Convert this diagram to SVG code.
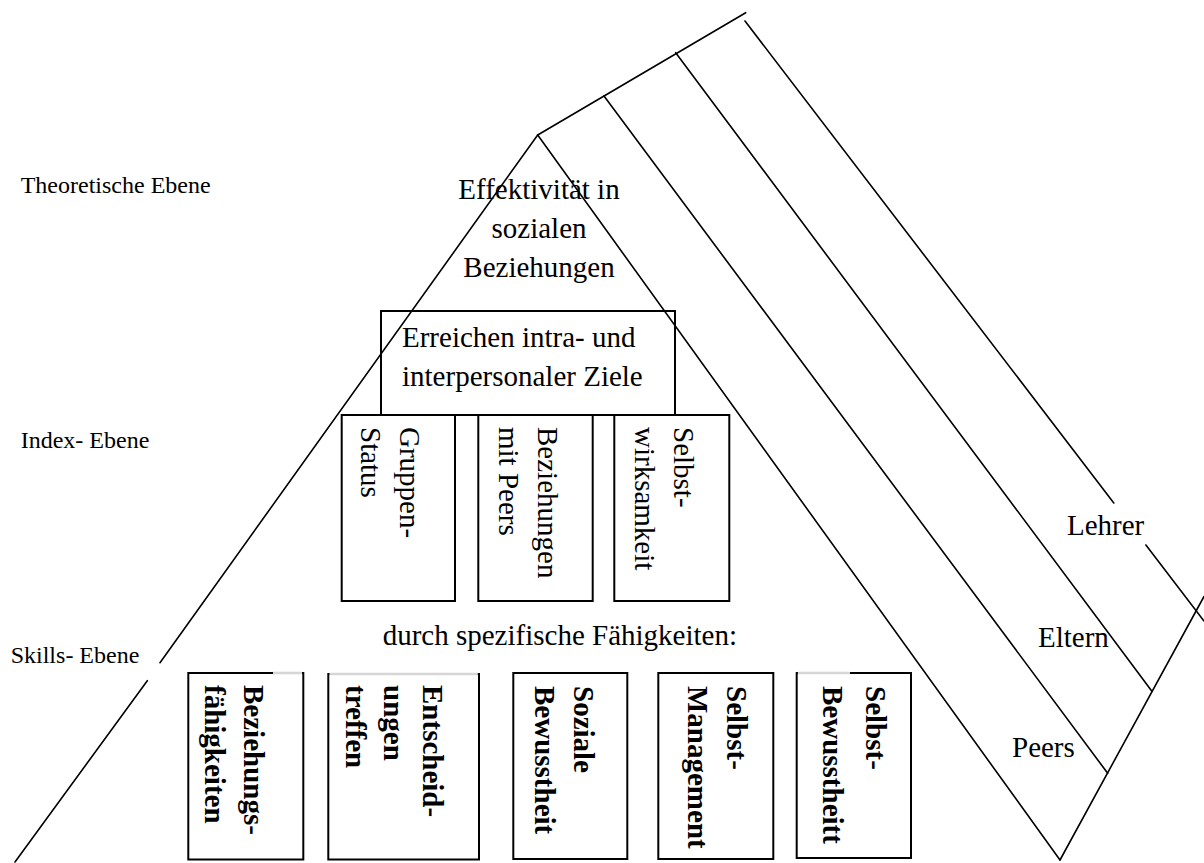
<svg xmlns="http://www.w3.org/2000/svg" width="1204" height="863" viewBox="0 0 1204 863">
<style>
text { font-family: "Liberation Serif", "Times New Roman", serif; fill: #000; }
.lbl { font-size: 24px; }
.t { font-size: 29px; }
.b { font-size: 29px; font-weight: bold; }
.box { fill: none; stroke: #000; stroke-width: 2; }
.ln { fill: none; stroke: #000; stroke-width: 1.6; stroke-linecap: round; }
.faint { stroke: #d6d6d6; stroke-width: 2.6; }
</style>
<rect width="1204" height="863" fill="#fff"/>
<g id="connectors">
  <line class="ln" x1="537.7" y1="135" x2="745.7" y2="12.7"/>
  <line class="ln" x1="537.7" y1="135" x2="160" y2="662.7"/>
  <line class="ln" x1="147.3" y1="680.7" x2="15" y2="862"/>
  <line class="ln" x1="537.7" y1="135" x2="1060" y2="860"/>
  <line class="ln" x1="604" y1="96" x2="1107.7" y2="773.3"/>
  <line class="ln" x1="675.7" y1="52.7" x2="1151.7" y2="691"/>
  <line class="ln" x1="745" y1="21" x2="1113.8" y2="503"/>
  <line class="ln" x1="1145.9" y1="545" x2="1204" y2="621"/>
  <line class="ln" x1="1060" y1="860" x2="1204" y2="596.5"/>
</g>
<g id="level-labels">
  <text class="lbl" x="20.7" y="193">Theoretische Ebene</text>
  <text class="lbl" x="20.7" y="448">Index- Ebene</text>
  <text class="lbl" x="10.7" y="663">Skills- Ebene</text>
</g>
<g id="effektivitaet">
  <text class="t" text-anchor="middle"><tspan x="539" y="199.3">Effektivität in</tspan><tspan x="539" y="238">sozialen</tspan><tspan x="539" y="276.7">Beziehungen</tspan></text>
</g>
<g id="ziele">
  <rect class="box" x="381" y="311" width="294" height="104"/>
  <text class="t"><tspan x="402" y="347">Erreichen intra- und</tspan><tspan x="402" y="385.5">interpersonaler Ziele</tspan></text>
</g>
<g id="gruppenstatus">
  <rect class="box" x="341.7" y="415" width="113.3" height="186"/>
  <text class="t" transform="translate(400,427) rotate(90)"><tspan x="0" y="0">Gruppen-</tspan><tspan x="0" y="38.7">Status</tspan></text>
</g>
<g id="beziehungen-peers">
  <rect class="box" x="478.3" y="415" width="114.4" height="186"/>
  <text class="t" transform="translate(537.5,427) rotate(90)"><tspan x="0" y="0">Beziehungen</tspan><tspan x="0" y="38.7">mit Peers</tspan></text>
</g>
<g id="selbstwirksamkeit">
  <rect class="box" x="614.3" y="415" width="115" height="186"/>
  <text class="t" transform="translate(674,427) rotate(90)"><tspan x="0" y="0">Selbst-</tspan><tspan x="0" y="38.7">wirksamkeit</tspan></text>
</g>
<g id="faehigkeiten-label">
  <text class="t" x="382.7" y="645">durch spezifische Fähigkeiten:</text>
</g>
<g id="beziehungsfaehigkeiten">
  <rect class="box" x="188.3" y="673" width="115" height="186.5"/>
  <line class="faint" x1="273" y1="673" x2="302" y2="673"/>
  <text class="b" transform="translate(243.5,685) rotate(90)"><tspan x="0" y="0">Beziehungs-</tspan><tspan x="0" y="38.7">fähigkeiten</tspan></text>
</g>
<g id="entscheidungen">
  <rect class="box" x="328.3" y="674" width="150.7" height="185.5"/>
  <line class="faint" x1="329.5" y1="674" x2="477.8" y2="674"/>
  <text class="b" transform="translate(422.5,685) rotate(90)"><tspan x="0" y="0">Entscheid-</tspan><tspan x="0" y="38.5">ungen</tspan><tspan x="0" y="77">treffen</tspan></text>
</g>
<g id="soziale-bewusstheit">
  <rect class="box" x="513.3" y="673" width="114" height="186"/>
  <text class="b" transform="translate(573.5,686) rotate(90)"><tspan x="0" y="0">Soziale</tspan><tspan x="0" y="39">Bewusstheit</tspan></text>
</g>
<g id="selbst-management">
  <rect class="box" x="658.3" y="673" width="115" height="186"/>
  <text class="b" transform="translate(727,686) rotate(90)"><tspan x="0" y="0">Selbst-</tspan><tspan x="0" y="39.5">Management</tspan></text>
</g>
<g id="selbst-bewusstheit">
  <rect class="box" x="796.7" y="673" width="114.3" height="185"/>
  <line class="faint" x1="797.9" y1="673" x2="850" y2="673"/>
  <text class="b" transform="translate(866,686) rotate(90)"><tspan x="0" y="0">Selbst-</tspan><tspan x="0" y="43">Bewusstheitt</tspan></text>
</g>
<g id="kontexte">
  <text class="t" x="1012" y="757">Peers</text>
  <text class="t" x="1038" y="647">Eltern</text>
  <text class="t" x="1067" y="535">Lehrer</text>
</g>
</svg>
